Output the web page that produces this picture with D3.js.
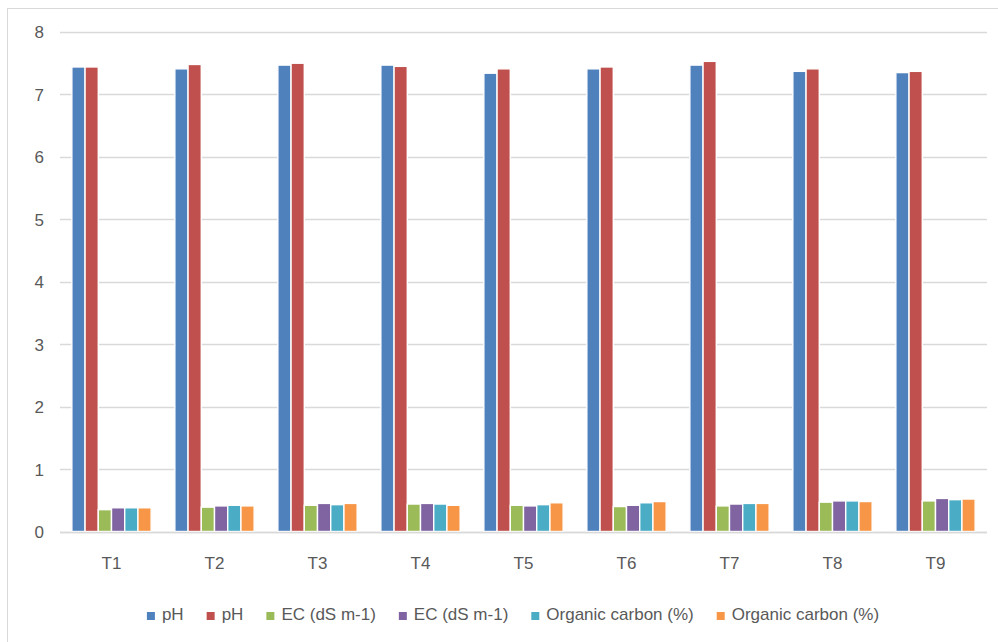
<!DOCTYPE html>
<html>
<head>
<meta charset="utf-8">
<script src="https://cdn.jsdelivr.net/npm/d3@7"></script>
<style>
  html, body { margin: 0; padding: 0; background: #ffffff; }
  svg { display: block; }
  text { font-family: "Liberation Sans Narrow", "Liberation Sans", Arial, sans-serif; fill: #595959; }
</style>
</head>
<body>
<svg id="chart" width="998" height="642"></svg>
<script>
// Treatments along the x axis
const categories = ["T1", "T2", "T3", "T4", "T5", "T6", "T7", "T8", "T9"];

// Series names as shown in the legend
const seriesNames = ["pH", "pH", "EC (dS m-1)", "EC (dS m-1)", "Organic carbon (%)", "Organic carbon (%)"];

// Values per treatment, one array per series
const pH1 = [7.44, 7.41, 7.47, 7.47, 7.34, 7.41, 7.47, 7.37, 7.35];
const pH2 = [7.44, 7.48, 7.50, 7.45, 7.41, 7.44, 7.53, 7.41, 7.37];
const ec1 = [0.35, 0.39, 0.42, 0.44, 0.42, 0.40, 0.41, 0.47, 0.49];
const ec2 = [0.38, 0.41, 0.45, 0.45, 0.41, 0.42, 0.44, 0.49, 0.53];
const oc1 = [0.38, 0.42, 0.43, 0.44, 0.43, 0.46, 0.45, 0.49, 0.51];
const oc2 = [0.38, 0.41, 0.45, 0.42, 0.46, 0.48, 0.45, 0.48, 0.52];

const yTicks = [0, 1, 2, 3, 4, 5, 6, 7, 8];

const colors = ["#4F81BD", "#C0504D", "#9BBB59", "#8064A2", "#4BACC6", "#F79646"];

const seriesValues = [pH1, pH2, ec1, ec2, oc1, oc2];
const series = seriesNames.map((name, i) => ({ name, color: colors[i], values: seriesValues[i], idx: i }));

const FONT = "Liberation Sans Narrow, Liberation Sans, Arial, sans-serif";
const FS = 17;

const svg = d3.select("#chart");
const W = 998, H = 642;

// Chart frame
svg.append("rect")
  .attr("x", 7.5).attr("y", 8.5)
  .attr("width", W + 10).attr("height", H + 10)
  .attr("fill", "#ffffff").attr("stroke", "#D9D9D9").attr("stroke-width", 1);

const plot = { left: 60, right: 987, top: 32, bottom: 531.5 };

const x = d3.scaleBand()
  .domain(categories)
  .range([plot.left, plot.right])
  .paddingInner(0.23)
  .paddingOuter(0.115);

const xs = d3.scaleBand()
  .domain(d3.range(series.length))
  .range([0, x.bandwidth()]);

const y = d3.scaleLinear()
  .domain([0, 8])
  .range([plot.bottom, plot.top]);

// Horizontal gridlines
svg.append("g")
  .selectAll("line")
  .data(yTicks)
  .join("line")
  .attr("x1", plot.left).attr("x2", plot.right)
  .attr("y1", d => Math.round(y(d)) + 0.5)
  .attr("y2", d => Math.round(y(d)) + 0.5)
  .attr("stroke", "#D9D9D9").attr("stroke-width", 1.3);

// Y axis labels
const yAxis = d3.axisLeft(y).tickValues(yTicks).tickSize(0).tickPadding(0);
const gy = svg.append("g")
  .attr("transform", `translate(${plot.left - 16},0)`)
  .call(yAxis);
gy.select(".domain").remove();
gy.selectAll("text")
  .attr("font-size", FS)
  .attr("font-family", FONT)
  .attr("fill", "#595959")
  .attr("dy", "0.35em");

// Bars
const groups = svg.append("g")
  .selectAll("g")
  .data(series)
  .join("g")
  .attr("fill", d => d.color);

groups.selectAll("rect")
  .data(s => s.values.map((v, j) => ({ v, cat: categories[j], idx: s.idx })))
  .join("rect")
  .attr("x", d => x(d.cat) + xs(d.idx))
  .attr("y", d => y(d.v))
  .attr("width", xs.bandwidth())
  .attr("height", d => y(0) - y(d.v))
  .attr("stroke", "#ffffff")
  .attr("stroke-width", 1.4);

// Bottom axis line
svg.append("line")
  .attr("x1", plot.left).attr("x2", plot.right)
  .attr("y1", Math.round(y(0)) + 0.5).attr("y2", Math.round(y(0)) + 0.5)
  .attr("stroke", "#D9D9D9").attr("stroke-width", 1.3);

// X axis labels
const xAxis = d3.axisBottom(x).tickSize(0).tickPadding(0);
const gx = svg.append("g")
  .attr("transform", `translate(0,${plot.bottom + 37})`)
  .call(xAxis);
gx.select(".domain").remove();
gx.selectAll("text")
  .attr("font-size", FS)
  .attr("font-family", FONT)
  .attr("fill", "#595959")
  .attr("dy", 0)
  .attr("y", 0);

// Legend
const legend = svg.append("g").attr("transform", "translate(0,620)");
const items = legend.selectAll("g")
  .data(series)
  .join("g");
items.append("rect")
  .attr("width", 8).attr("height", 8)
  .attr("y", -8)
  .attr("fill", d => d.color);
items.append("text")
  .attr("x", 15)
  .attr("y", 0)
  .attr("font-size", FS)
  .attr("font-family", FONT)
  .text(d => d.name);

const gap = 23;
const widths = [];
items.each(function () {
  const t = d3.select(this).select("text").node().getComputedTextLength();
  widths.push(15 + t);
});
const total = d3.sum(widths) + gap * (widths.length - 1);
const start = (147 + 879) / 2 - total / 2;
items.attr("transform", (d, i) => {
  const tx = start + d3.sum(widths.slice(0, i)) + gap * i;
  return `translate(${tx},0)`;
});
</script>
</body>
</html>
